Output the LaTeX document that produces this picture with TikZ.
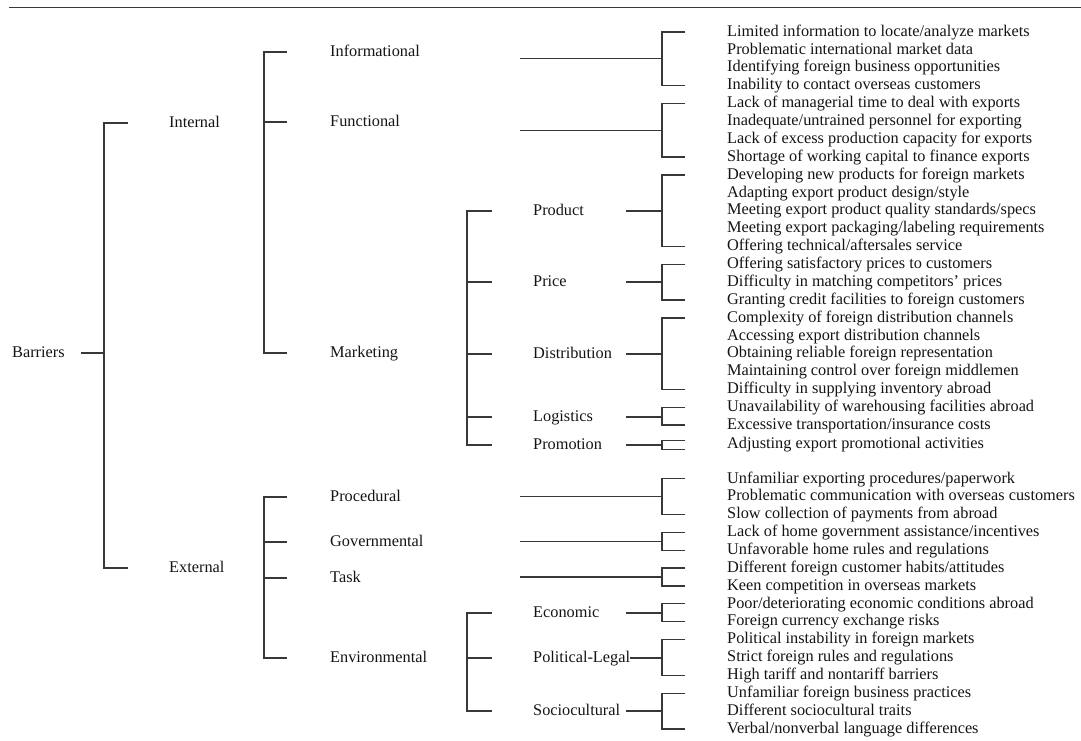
\documentclass[tikz,border=0pt]{standalone}
\usepackage{fontspec}
\setmainfont{Liberation Serif}
\usetikzlibrary{calc}

\begin{document}
\begin{tikzpicture}[x=1pt,y=-1pt,font=\fontsize{16.3}{18}\selectfont,
  lbl/.style={anchor=west,inner sep=0pt,text height=2.1ex,text depth=0.25ex,text=black!92},
  brk/.style={draw=black!78,line width=1.3pt}]
\useasboundingbox (0,0) rectangle (1081,740);
\coordinate (ruleL) at (9,7.5);
\coordinate (ruleR) at (1081,7.5);
\draw[brk,line width=1.4pt] (ruleL) -- (ruleR);

\node[lbl] (bar)at(12,353) {Barriers};
\node[lbl] (int)at(169,123) {Internal};
\node[lbl] (ext)at(169,568) {External};
\node[lbl] (inf)at(330,52) {Informational};
\node[lbl] (fun)at(330,122) {Functional};
\node[lbl] (mkt)at(330,353) {Marketing};
\node[lbl] (pro)at(330,497) {Procedural};
\node[lbl] (gov)at(330,542) {Governmental};
\node[lbl] (tsk)at(330,578) {Task};
\node[lbl] (env)at(330,658) {Environmental};
\node[lbl] (prd)at(533,211) {Product};
\node[lbl] (prc)at(533,282) {Price};
\node[lbl] (dst)at(533,354) {Distribution};
\node[lbl] (lgs)at(533,417) {Logistics};
\node[lbl] (prm)at(533,445) {Promotion};
\node[lbl] (eco)at(533,613) {Economic};
\node[lbl] (pol)at(533,658) {Political-Legal};
\node[lbl] (soc)at(533,711) {Sociocultural};

\node[lbl] (l1)at(727,32) {Limited information to locate/analyze markets};
\node[lbl] (l2)at(727,49.9) {Problematic international market data};
\node[lbl] (l3)at(727,67.7) {Identifying foreign business opportunities};
\node[lbl] (l4)at(727,85.6) {Inability to contact overseas customers};
\node[lbl] (l5)at(727,103.5) {Lack of managerial time to deal with exports};
\node[lbl] (l6)at(727,121.4) {Inadequate/untrained personnel for exporting};
\node[lbl] (l7)at(727,139.2) {Lack of excess production capacity for exports};
\node[lbl] (l8)at(727,157.1) {Shortage of working capital to finance exports};
\node[lbl] (l9)at(727,175) {Developing new products for foreign markets};
\node[lbl] (l10)at(727,192.8) {Adapting export product design/style};
\node[lbl] (l11)at(727,210.7) {Meeting export product quality standards/specs};
\node[lbl] (l12)at(727,228.6) {Meeting export packaging/labeling requirements};
\node[lbl] (l13)at(727,246.4) {Offering technical/aftersales service};
\node[lbl] (l14)at(727,264.3) {Offering satisfactory prices to customers};
\node[lbl] (l15)at(727,282.2) {Difficulty in matching competitors' prices};
\node[lbl] (l16)at(727,300.1) {Granting credit facilities to foreign customers};
\node[lbl] (l17)at(727,317.9) {Complexity of foreign distribution channels};
\node[lbl] (l18)at(727,335.8) {Accessing export distribution channels};
\node[lbl] (l19)at(727,353.7) {Obtaining reliable foreign representation};
\node[lbl] (l20)at(727,371.5) {Maintaining control over foreign middlemen};
\node[lbl] (l21)at(727,389.4) {Difficulty in supplying inventory abroad};
\node[lbl] (l22)at(727,407.3) {Unavailability of warehousing facilities abroad};
\node[lbl] (l23)at(727,425.1) {Excessive transportation/insurance costs};
\node[lbl] (l24)at(727,444) {Adjusting export promotional activities};
\node[lbl] (l25)at(727,478.8) {Unfamiliar exporting procedures/paperwork};
\node[lbl] (l26)at(727,496.6) {Problematic communication with overseas customers};
\node[lbl] (l27)at(727,514.5) {Slow collection of payments from abroad};
\node[lbl] (l28)at(727,532.4) {Lack of home government assistance/incentives};
\node[lbl] (l29)at(727,550.2) {Unfavorable home rules and regulations};
\node[lbl] (l30)at(727,568.1) {Different foreign customer habits/attitudes};
\node[lbl] (l31)at(727,586) {Keen competition in overseas markets};
\node[lbl] (l32)at(727,603.8) {Poor/deteriorating economic conditions abroad};
\node[lbl] (l33)at(727,621.7) {Foreign currency exchange risks};
\node[lbl] (l34)at(727,639.6) {Political instability in foreign markets};
\node[lbl] (l35)at(727,657.5) {Strict foreign rules and regulations};
\node[lbl] (l36)at(727,675.3) {High tariff and nontariff barriers};
\node[lbl] (l37)at(727,693.2) {Unfamiliar foreign business practices};
\node[lbl] (l38)at(727,711.1) {Different sociocultural traits};
\node[lbl] (l39)at(727,728.9) {Verbal/nonverbal language differences};

% barriers -> internal / external
\coordinate (root)at(104,353);
\coordinate (rootin)at(81,353);
\draw[brk] (rootin) -- (root);
\draw[brk] ([xshift=-41pt]int.west) -| ([xshift=-65pt]ext.west) -- ([xshift=-41pt]ext.west);

% internal / external -> second level
\draw[brk] ([xshift=-43pt]inf.west) -| ([xshift=-66pt]mkt.west) -- ([xshift=-43pt]mkt.west);
\draw[brk] ([xshift=-43pt]fun.west) -- ([xshift=-66pt]fun.west);
\draw[brk] ([xshift=-43pt]pro.west) -| ([xshift=-66pt]env.west) -- ([xshift=-43pt]env.west);
\draw[brk] ([xshift=-43pt]gov.west) -- ([xshift=-66pt]gov.west);
\draw[brk] ([xshift=-43pt]tsk.west) -- ([xshift=-66pt]tsk.west);

% marketing / environmental -> third level
\draw[brk] ([xshift=-41pt]prd.west) -| ([xshift=-66pt]prm.west) -- ([xshift=-41pt]prm.west);
\draw[brk] ([xshift=-41pt]prc.west) -- ([xshift=-66pt]prc.west);
\draw[brk] ([xshift=-41pt]dst.west) -- ([xshift=-66pt]dst.west);
\draw[brk] ([xshift=-41pt]lgs.west) -- ([xshift=-66pt]lgs.west);
\draw[brk] ([xshift=-41pt]eco.west) -| ([xshift=-66pt]soc.west) -- ([xshift=-41pt]soc.west);
\draw[brk] ([xshift=-41pt]pol.west) -- ([xshift=-66pt]pol.west);

% leaf brackets
\draw[brk] ([xshift=-42pt]l1.west) -| ([xshift=-65pt]l4.west) -- ([xshift=-42pt]l4.west);
\draw[brk] ([xshift=-42pt]l5.west) -| ([xshift=-65pt]l8.west) -- ([xshift=-42pt]l8.west);
\draw[brk] ([xshift=-42pt]l9.west) -| ([xshift=-65pt]l13.west) -- ([xshift=-42pt]l13.west);
\draw[brk] ([xshift=-42pt]l14.west) -| ([xshift=-65pt]l16.west) -- ([xshift=-42pt]l16.west);
\draw[brk] ([xshift=-42pt]l17.west) -| ([xshift=-65pt]l21.west) -- ([xshift=-42pt]l21.west);
\draw[brk] ([xshift=-42pt]l22.west) -| ([xshift=-65pt]l23.west) -- ([xshift=-42pt]l23.west);
\draw[brk] ([xshift=-42pt,yshift=3.5pt]l24.west) -| ([xshift=-65pt,yshift=-5.5pt]l24.west) -- ([xshift=-42pt,yshift=-5.5pt]l24.west);
\draw[brk] ([xshift=-42pt]l25.west) -| ([xshift=-65pt]l27.west) -- ([xshift=-42pt]l27.west);
\draw[brk] ([xshift=-42pt]l28.west) -| ([xshift=-65pt]l29.west) -- ([xshift=-42pt]l29.west);
\draw[brk] ([xshift=-42pt]l30.west) -| ([xshift=-65pt]l31.west) -- ([xshift=-42pt]l31.west);
\draw[brk] ([xshift=-42pt]l32.west) -| ([xshift=-65pt]l33.west) -- ([xshift=-42pt]l33.west);
\draw[brk] ([xshift=-42pt]l34.west) -| ([xshift=-65pt]l36.west) -- ([xshift=-42pt]l36.west);
\draw[brk] ([xshift=-42pt]l37.west) -| ([xshift=-65pt]l39.west) -- ([xshift=-42pt]l39.west);

% second level -> leaves
\draw[brk] ($(l1.west)!.5!(l4.west)+(-65,0)$) -- ++(-142,0);
\draw[brk] ($(l5.west)!.5!(l8.west)+(-65,0)$) -- ++(-142,0);
\draw[brk] ($(l25.west)!.5!(l27.west)+(-65,0)$) -- ++(-142,0);
\draw[brk] ($(l28.west)!.5!(l29.west)+(-65,0)$) -- ++(-142,0);
\draw[brk] ($(l30.west)!.5!(l31.west)+(-65,0)$) -- ++(-142,0);

% third level -> leaves
\draw[brk] ([xshift=93pt]prd.west) -- ([xshift=129pt]prd.west);
\draw[brk] ([xshift=93pt]prc.west) -- ([xshift=129pt]prc.west);
\draw[brk] ([xshift=93pt]dst.west) -- ([xshift=129pt]dst.west);
\draw[brk] ([xshift=93pt]lgs.west) -- ([xshift=129pt]lgs.west);
\draw[brk] ([xshift=93pt]prm.west) -- ([xshift=129pt]prm.west);
\draw[brk] ([xshift=93pt]eco.west) -- ([xshift=129pt]eco.west);
\draw[brk] (pol.east) -- ([xshift=129pt]pol.west);
\draw[brk] ([xshift=93pt]soc.west) -- ([xshift=129pt]soc.west);
\end{tikzpicture}
\end{document}
